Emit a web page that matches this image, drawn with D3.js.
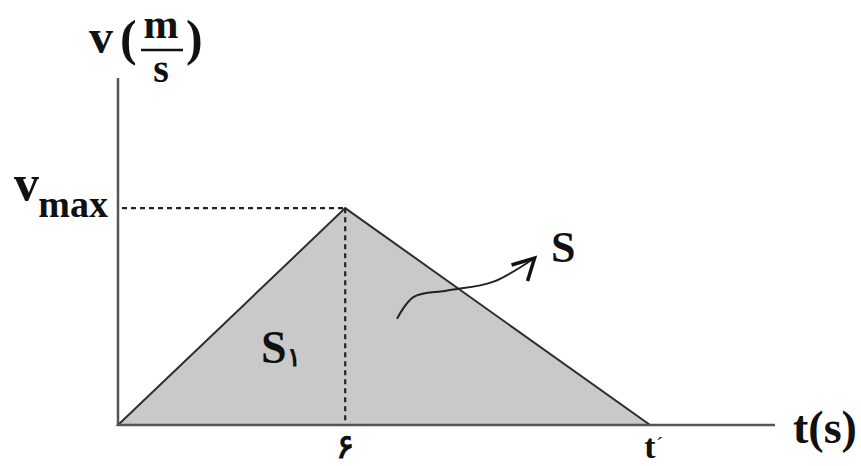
<!DOCTYPE html>
<html lang="fa">

<head>
    <title>v-t</title>
    <meta charset="utf-8">
    <script src="https://d3js.org/d3.v7.min.js"></script>
    <style>
        body { margin: 0; background: #fff; }
    </style>
</head>

<body>
    <div id="chart"></div>
    <script>
        // Data
        const times = [0, 6, 14.05];          // t = 0, 6, t'
        const speeds = [0, 1, 0];             // 0, vmax, 0
        const tickValues = [6, 14.05];
        const tickLabels = ["۶", "t"];
        const arrowT = [7.37, 7.8, 8.7, 9.9, 11.0];
        const arrowV = [0.49, 0.59, 0.62, 0.66, 0.77];

        const width = 861, height = 466;
        const serif = "'Liberation Serif', 'Times New Roman', 'DejaVu Serif', serif";

        const svg = d3.select("#chart")
            .append("svg")
            .attr("width", width)
            .attr("height", height);

        // helper for bold serif labels
        function label(g, tx, ty, size, str, anchor) {
            return g.append("text")
                .attr("x", tx).attr("y", ty)
                .attr("text-anchor", anchor || "start")
                .attr("font-family", serif)
                .attr("font-weight", "bold")
                .attr("font-size", size)
                .attr("fill", "#111")
                .text(str);
        }

        // Scales
        const x = d3.scaleLinear().domain([0, 17.35]).range([118, 775]);
        const y = d3.scaleLinear().domain([0, 1.6]).range([425, 78]);

        const pts = times.map((t, i) => [x(t), y(speeds[i])]);

        // Triangle area
        svg.append("path")
            .attr("d", d3.line()(pts) + "Z")
            .attr("fill", "#c9c9c9")
            .attr("stroke", "#2e2e2e")
            .attr("stroke-width", 2);

        // Dashed guides
        const peakT = times[1], peakV = speeds[1];
        svg.append("line")
            .attr("x1", x(0) + 4).attr("x2", x(peakT))
            .attr("y1", y(peakV)).attr("y2", y(peakV))
            .attr("stroke", "#222").attr("stroke-width", 2.2)
            .attr("stroke-dasharray", "5,4");
        svg.append("line")
            .attr("x1", x(peakT)).attr("x2", x(peakT))
            .attr("y1", y(peakV)).attr("y2", y(0))
            .attr("stroke", "#222").attr("stroke-width", 2.2)
            .attr("stroke-dasharray", "5,4");

        // Axes
        svg.append("line")
            .attr("x1", x(0)).attr("x2", x(0))
            .attr("y1", y(1.6)).attr("y2", y(0) + 1)
            .attr("stroke", "#555").attr("stroke-width", 2.5);
        svg.append("line")
            .attr("x1", x(0)).attr("x2", x(17.35))
            .attr("y1", y(0)).attr("y2", y(0))
            .attr("stroke", "#555").attr("stroke-width", 2.5);

        // Tick labels under the time axis
        tickValues.forEach((d, i) => label(svg, x(d), 458, 34, tickLabels[i], "middle"));
        // prime mark on t'
        svg.append("text")
            .attr("x", x(tickValues[1]) + 6)
            .attr("y", 452)
            .attr("font-family", serif)
            .attr("font-size", 22)
            .attr("fill", "#111")
            .text("´");

        // Axis titles
        label(svg, 793, 443, 46, "t(s)");

        const yTitle = svg.append("g");
        label(yTitle, 89, 53, 48, "v");
        label(yTitle, 120, 55, 50, "(");
        label(yTitle, 161, 38, 42, "m", "middle");
        yTitle.append("line").attr("x1", 141).attr("x2", 183).attr("y1", 50).attr("y2", 50)
            .attr("stroke", "#111").attr("stroke-width", 2.5);
        label(yTitle, 161, 82, 40, "s", "middle");
        label(yTitle, 186, 55, 50, ")");

        // vmax label
        label(svg, 14, y(peakV) - 8, 50, "v");
        label(svg, 108, y(peakV) + 9, 38, "max", "end");

        // Area labels
        label(svg, 261, 363, 46, "S");
        label(svg, 287, 366, 26, "۱");
        label(svg, 551, 262, 44, "S");

        // Curved arrow from S region to label
        const arrowPts = arrowT.map((t, i) => [x(t), y(arrowV[i])]);
        svg.append("path")
            .attr("d", d3.line().curve(d3.curveCatmullRom)(arrowPts))
            .attr("fill", "none")
            .attr("stroke", "#222")
            .attr("stroke-width", 2);
        const tip = arrowPts[arrowPts.length - 1];
        svg.append("path")
            .attr("d", `M${tip[0] - 23},${tip[1] + 7}L${tip[0]},${tip[1]}L${tip[0] - 7},${tip[1] + 23}`)
            .attr("fill", "none")
            .attr("stroke", "#111")
            .attr("stroke-width", 3.5);
    </script>
</body>

</html>
